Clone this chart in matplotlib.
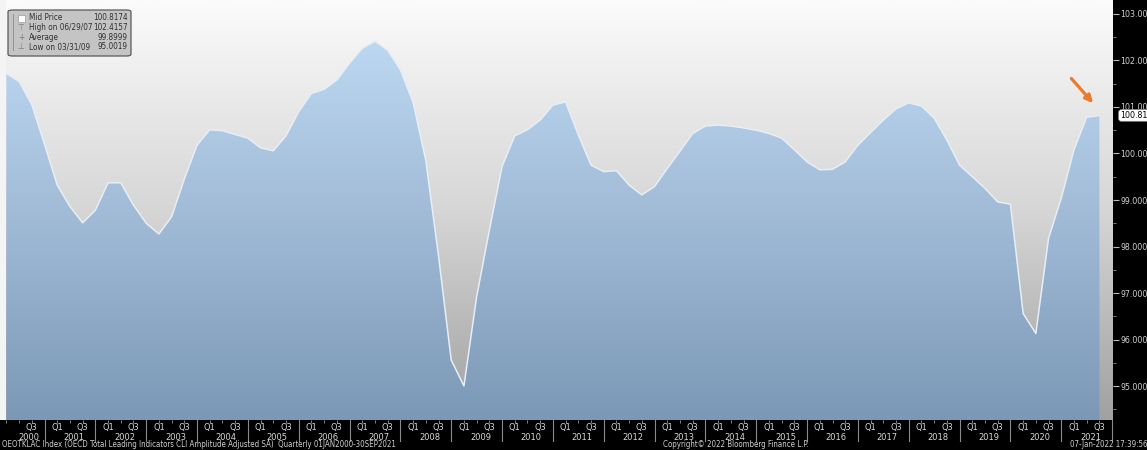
import numpy as np
import matplotlib
matplotlib.use("Agg")
import matplotlib.pyplot as plt
from matplotlib.patches import Polygon, FancyBboxPatch, Rectangle
from matplotlib.colors import LinearSegmentedColormap
import matplotlib.transforms as mtransforms

plt.rcParams['font.family'] = ['DejaVu Sans']
plt.rcParams['font.stretch'] = 'condensed'

# ---------------- data ----------------
start_year = 2000
end_year = 2021
values = [101.72, 101.55, 101.05, 100.20, 99.32, 98.86, 98.51, 98.78, 99.37, 99.37,
          98.89, 98.50, 98.27, 98.64, 99.45, 100.18, 100.51, 100.49, 100.41, 100.33,
          100.12, 100.06, 100.38, 100.90, 101.29, 101.38, 101.58, 101.94, 102.26, 102.4157,
          102.22, 101.80, 101.10, 99.85, 97.80, 95.56, 95.0019, 96.92, 98.35, 99.72,
          100.38, 100.51, 100.72, 101.04, 101.11, 100.40, 99.75, 99.61, 99.63, 99.32,
          99.11, 99.29, 99.68, 100.05, 100.43, 100.59, 100.61, 100.59, 100.55, 100.50,
          100.43, 100.33, 100.08, 99.82, 99.65, 99.66, 99.82, 100.18, 100.45, 100.72,
          100.96, 101.09, 101.02, 100.76, 100.29, 99.75, 99.50, 99.25, 98.96, 98.91,
          96.56, 96.13, 98.18, 99.04, 100.08, 100.78, 100.8174]
quarter_labels = ['Q1', 'Q3']
ytick_values = [95, 96, 97, 98, 99, 100, 101, 102, 103]
legend_rows = [("Mid Price", "100.8174"),
               ("High on 06/29/07", "102.4157"),
               ("Average", "99.8999"),
               ("Low on 03/31/09", "95.0019")]
footer_left = "OEOTKLAC Index (OECD Total Leading Indicators CLI Amplitude Adjusted SA)  Quarterly 01JAN2000-30SEP2021"
footer_mid = "Copyright\u00a9 2022 Bloomberg Finance L.P."
footer_right = "07-Jan-2022 17:39:56"
last_label = "100.8174"

# ---------------- figure ----------------
W, H = 1147, 450
fig = plt.figure(figsize=(W / 100, H / 100), dpi=100, facecolor='black')
ax_left, ax_right, ax_bottom = 6, 1113, 420
ax = fig.add_axes([ax_left / W, (H - ax_bottom) / H, (ax_right - ax_left) / W, ax_bottom / H])
fig.patches.append(Rectangle((0, (H - ax_bottom) / H), ax_left / W, ax_bottom / H,
                             transform=fig.transFigure, facecolor='#f4f4f4', edgecolor='none'))

n = len(values)
x = np.arange(n)
ymin, ymax = 94.27, 103.30
xmin, xmax = -0.03, n - 1 + 1.07
ax.set_xlim(xmin, xmax)
ax.set_ylim(ymin, ymax)

# background gradient
bg = LinearSegmentedColormap.from_list('bg', ['#a1a1a1', '#d6d6d6', '#fbfbfb'])
grad = np.linspace(0, 1, 256).reshape(-1, 1)
ax.imshow(grad, cmap=bg, origin='lower', aspect='auto',
          extent=[xmin, xmax, ymin, ymax], zorder=0)

# blue area gradient clipped to area
blue = LinearSegmentedColormap.from_list('bl', ['#7b98b6', '#a2bcd8', '#c3def7'])
verts = [(x[0], ymin)] + list(zip(x, values)) + [(x[-1], ymin)]
poly = Polygon(verts, closed=True, facecolor='none', edgecolor='none')
ax.add_patch(poly)
im = ax.imshow(grad, cmap=blue, origin='lower', aspect='auto',
               extent=[xmin, xmax, ymin, ymax], zorder=1)
im.set_clip_path(poly)
ax.plot(x, values, color='#e6eef7', lw=1.1, zorder=2)

# axes styling
for s in ax.spines.values():
    s.set_visible(False)
ax.yaxis.tick_right()
ax.set_yticks(ytick_values)
ax.set_yticklabels([f"{v:.4f}" for v in ytick_values])
ax.set_yticks([v + 0.5 for v in ytick_values[:-1]] + [94.5], minor=True)
ax.tick_params(axis='y', which='major', colors='#bdbdbd', labelcolor='#d0d0d0',
               labelsize=6.3, length=4, width=0.8, pad=1.5, direction='out')
ax.tick_params(axis='y', which='minor', colors='#9a9a9a', length=2, width=0.6)

# x ticks: Q1/Q3 labels at quarter positions
q_pos, q_lab = [], []
for i in range(n):
    q = i % 4
    if q in (0, 2) and x[i] > 0.5:
        q_pos.append(x[i])
        q_lab.append(quarter_labels[q // 2])
ax.set_xticks(q_pos)
ax.set_xticklabels(q_lab)
ax.set_xticks(x, minor=True)
ax.tick_params(axis='x', which='major', colors='#9a9a9a', labelcolor='#d8d8d8',
               labelsize=6.7, length=2, width=0.6, pad=0.5)
ax.tick_params(axis='x', which='minor', colors='#9a9a9a', length=2, width=0.6)

trans = mtransforms.blended_transform_factory(ax.transData, ax.transAxes)
for k, yr in enumerate(range(start_year, end_year + 1)):
    sep_right = 3 + 4 * k
    sep_left = sep_right - 4
    if sep_right <= xmax:
        ax.plot([sep_right, sep_right], [0, -0.05], transform=trans, color='#8a8a8a',
                lw=0.8, clip_on=False)
    lo = max(sep_left, xmin)
    hi = min(sep_right, xmax)
    ax.text((lo + hi) / 2 + 0.3, -0.042, str(yr), transform=trans, ha='center', va='center',
            color='#d8d8d8', fontsize=6.7)

# legend box (top-left)
fig.patches.append(FancyBboxPatch((8 / W, 1 - 56 / H), 123 / W, 46 / H,
                                  boxstyle='round,pad=0,rounding_size=0.004',
                                  transform=fig.transFigure, facecolor='#c4c4c4',
                                  edgecolor='#5a5a5a', lw=0.9, zorder=5))
row_y = [18, 27.5, 37, 46.5]
icons = ['', '\u22a4', '+', '\u22a5']
for (lab, val), ry, ic in zip(legend_rows, row_y, icons):
    fig.text(29 / W, 1 - ry / H, lab, color='#303030', fontsize=5.9, va='center', zorder=6)
    fig.text(128 / W, 1 - ry / H, val, color='#303030', fontsize=5.9, va='center', ha='right', zorder=6)
    if ic:
        fig.text(21 / W, 1 - ry / H, ic, color='#7a7a7a', fontsize=6, va='center', ha='center',
                 zorder=6)
fig.patches.append(Rectangle((18 / W, 1 - 22 / H), 7 / W, 7 / H, transform=fig.transFigure,
                             facecolor='white', edgecolor='#888888', lw=0.4, zorder=6))
fig.lines.append(plt.Line2D([13 / W, 13 / W], [1 - 14 / H, 1 - 50 / H], transform=fig.transFigure,
                            color='#8a8a8a', lw=0.6, zorder=6))

# last value tag
tb = mtransforms.blended_transform_factory(ax.transAxes, ax.transData)
ax.annotate(last_label, xy=(1.0, values[-1]), xycoords=tb, xytext=(5, 0),
            textcoords='offset points', ha='left', va='center', fontsize=6.3, color='black',
            bbox=dict(boxstyle='round,pad=0.15,rounding_size=0.3', fc='white', ec='#888888', lw=0.5),
            annotation_clip=False)

# orange arrow
ax.annotate('', xy=(x[-1] - 0.35, values[-1] + 0.22), xytext=(x[-1] - 2.35, values[-1] + 0.84),
            arrowprops=dict(arrowstyle='-|>', color='#ea7a2c', lw=2.3, mutation_scale=11),
            zorder=4)

# footer
fig.text(2 / W, 1 / H, footer_left, color='#cfcfcf', fontsize=5.7, va='bottom', ha='left')
fig.text(663 / W, 1 / H, footer_mid, color='#cfcfcf', fontsize=5.7, va='bottom', ha='left')
fig.text(1070 / W, 1 / H, footer_right, color='#cfcfcf', fontsize=5.7, va='bottom', ha='left')

fig.savefig('out.png', dpi=100, facecolor='black')
